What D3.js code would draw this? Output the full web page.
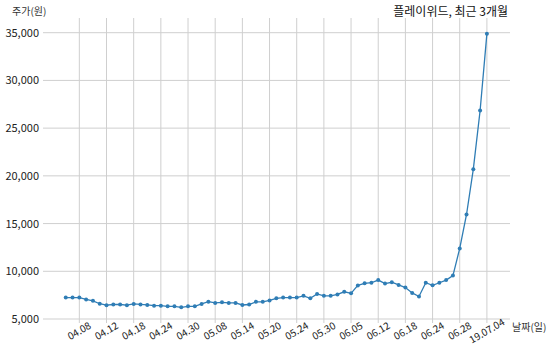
<!DOCTYPE html>
<html><head><meta charset="utf-8">
<script src="https://cdn.jsdelivr.net/npm/d3@7"></script>
<style>
body{margin:0;background:#fff;}
text{font-family:"Noto Sans CJK KR","Noto Sans",sans-serif;}
</style></head>
<body><svg id="c" width="550" height="356"></svg>
<script>
const dates = ["04.04","04.05","04.08","04.09","04.10","04.11","04.12","04.15","04.16","04.17",
"04.18","04.19","04.22","04.23","04.24","04.25","04.26","04.29","04.30","05.02",
"05.03","05.07","05.08","05.09","05.10","05.13","05.14","05.15","05.16","05.17",
"05.20","05.21","05.22","05.23","05.24","05.27","05.28","05.29","05.30","05.31",
"06.03","06.04","06.05","06.07","06.10","06.11","06.12","06.13","06.14","06.17",
"06.18","06.19","06.20","06.21","06.24","06.25","06.26","06.27","06.28","07.01",
"07.02","07.03","19.07.04"];
const prices = [7250,7250,7250,7050,6900,6600,6450,6520,6520,6450,
6580,6530,6470,6400,6400,6330,6330,6220,6330,6330,
6580,6820,6680,6750,6680,6680,6470,6520,6800,6800,
6950,7170,7250,7250,7250,7430,7170,7630,7430,7430,
7570,7850,7690,8520,8740,8800,9080,8710,8850,8570,
8290,7730,7360,8800,8530,8800,9080,9550,12400,15950,
20700,26850,34900];
const yTicks = [5000,10000,15000,20000,25000,30000,35000];
const title = "플레이위드, 최근 3개월";
const yLabel = "주가(원)";
const xLabel = "날짜(일)";

const svg = d3.select("#c");
const L = 43, R = 510, T = 18, B = 323;
const x = d3.scaleLinear().domain([-3.35, 65.4]).range([L, R]);
const y = d3.scaleLinear().domain([5000, 35000]).range([319, 32.7]);
const tickIdx = d3.range(2, dates.length, 4);

// vertical gridlines
svg.append("g").selectAll("line").data(tickIdx).join("line")
  .attr("x1", d => x(d)).attr("x2", d => x(d))
  .attr("y1", T).attr("y2", B)
  .attr("stroke", "#cfcfcf").attr("stroke-width", 1);
// horizontal gridlines
svg.append("g").selectAll("line").data(yTicks).join("line")
  .attr("x1", L).attr("x2", R)
  .attr("y1", d => y(d)).attr("y2", d => y(d))
  .attr("stroke", "#cfcfcf").attr("stroke-width", 1);

// y tick labels
svg.append("g").selectAll("text").data(yTicks).join("text")
  .attr("x", 39).attr("y", d => y(d) + 4)
  .attr("text-anchor", "end").attr("font-size", 11).attr("fill", "#222")
  .text(d => d3.format(",")(d));

// x tick labels
svg.append("g").selectAll("text").data(tickIdx).join("text")
  .attr("transform", d => `translate(${x(d)},${331}) rotate(-30)`)
  .attr("text-anchor", "middle").attr("dy", "0.35em")
  .attr("font-size", 10).attr("fill", "#222")
  .text(d => dates[d]);

// line
const line = d3.line().x((d, i) => x(i)).y(d => y(d));
svg.append("path").datum(prices)
  .attr("d", line).attr("fill", "none")
  .attr("stroke", "#2f7db5").attr("stroke-width", 1.3);
svg.append("g").selectAll("circle").data(prices).join("circle")
  .attr("cx", (d, i) => x(i)).attr("cy", d => y(d)).attr("r", 2)
  .attr("fill", "#2f7db5");

// labels
svg.append("text").attr("x", 508).attr("y", 16).attr("text-anchor", "end")
  .attr("font-size", 12).attr("fill", "#111").text(title);
svg.append("text").attr("x", 12).attr("y", 15)
  .attr("font-size", 10).attr("fill", "#333").text(yLabel);
svg.append("text").attr("x", 512).attr("y", 331)
  .attr("font-size", 10).attr("fill", "#333").text(xLabel);
</script></body></html>
